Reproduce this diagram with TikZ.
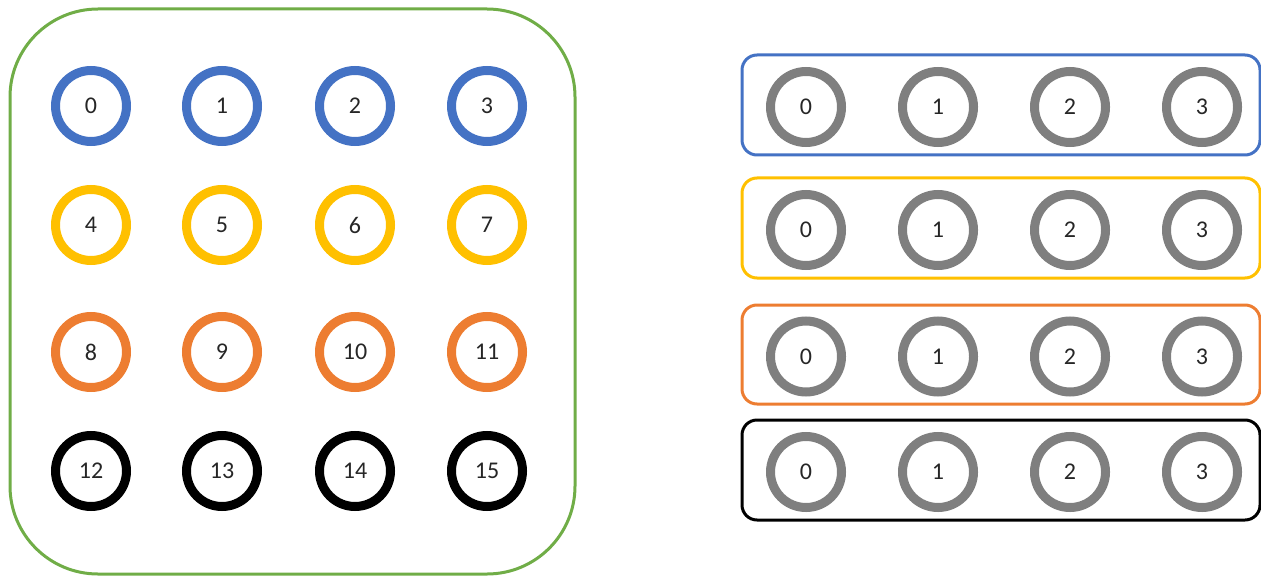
\documentclass[tikz,border=0pt]{standalone}
\usepackage{fontspec}
\setmainfont{Carlito}
\definecolor{cblue}{HTML}{4472C4}
\definecolor{cyellow}{HTML}{FFC000}
\definecolor{corange}{HTML}{ED7D31}
\definecolor{cgreen}{HTML}{70AD47}
\definecolor{cgrey}{HTML}{7F7F7F}
\definecolor{ctext}{HTML}{262626}
\begin{document}
\begin{tikzpicture}[x=0.5pt,y=-0.5pt,
  ring/.style={circle,draw=#1,line width=4.5pt,inner sep=0pt,minimum size=35.5pt,
    text=ctext,font=\fontsize{12}{14}\selectfont},
  group/.style={draw=#1,line width=1.5pt,rounded corners=7.5pt}]
\useasboundingbox (0,0) rectangle (1261,577);
% outer container for the sixteen ranks
\draw[draw=cgreen,line width=1.5pt,rounded corners=44pt] (10,9) rectangle (575,574);
% ranks 0..15, coloured by row
\foreach \c [count=\r from 0] in {cblue,cyellow,corange,black}{
  \pgfmathsetmacro{\yy}{{106,225,352,471}[\r]}
  \foreach \x [count=\k from 0] in {91,222,355,487}{
    \pgfmathtruncatemacro{\n}{4*\r+\k}
    \node[ring=\c] (r\n) at (\x,\yy) {\n};
  }
}
% four groups of local ranks 0..3
\foreach \c/\top/\bot [count=\r from 0] in {cblue/55/155,cyellow/178/278,corange/305/404,black/420/520}{
  \draw[group=\c] (742,\top) rectangle (1260,\bot);
  \pgfmathsetmacro{\yy}{(\top+\bot)/2+2}
  \foreach \x [count=\k from 0] in {806,938,1070,1202}{
    \node[ring=cgrey] (g\r-\k) at (\x,\yy) {\k};
  }
}
\end{tikzpicture}
\end{document}
